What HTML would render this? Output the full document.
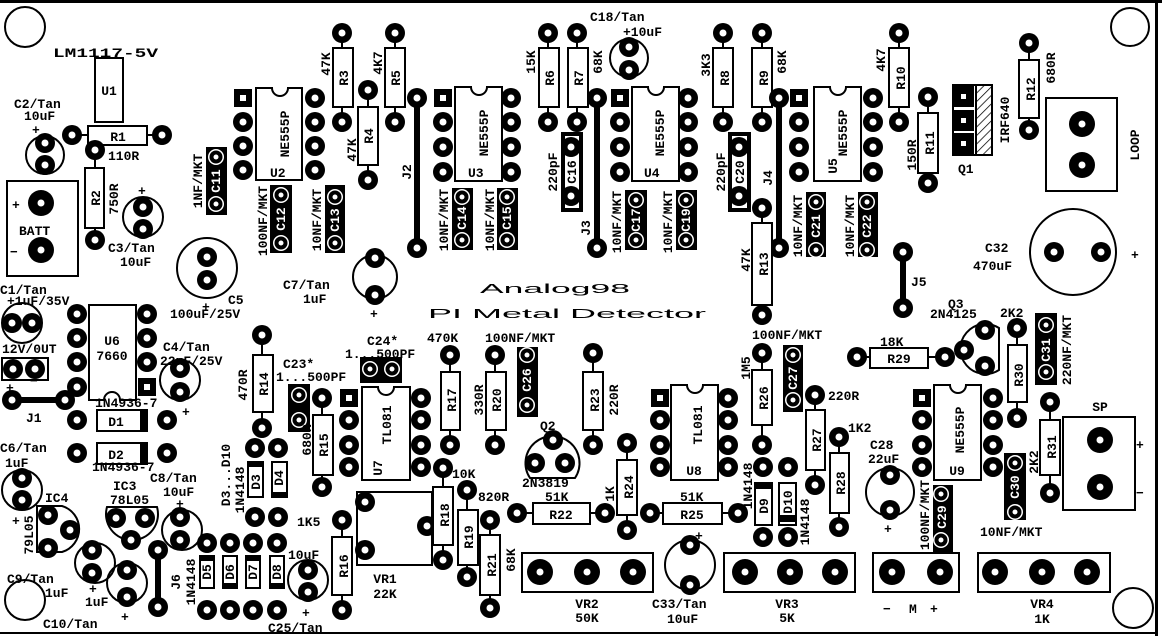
<!DOCTYPE html>
<html><head><meta charset="utf-8"><style>
html,body{margin:0;padding:0;background:#fff}
svg{display:block}
text{font-family:"Liberation Mono","DejaVu Sans Mono",monospace;font-weight:bold;font-size:13px;fill:#000}
.w{stroke:#000;stroke-width:2;fill:#fff}
.o{stroke:#000;stroke-width:2;fill:none}
.l{stroke:#000;stroke-width:2}
.j{stroke:#000;stroke-width:6}
.wt{fill:#fff}
.big{font-family:"Liberation Sans","DejaVu Sans",sans-serif;font-weight:normal}
</style></head><body>
<svg width="1162" height="636" viewBox="0 0 1162 636" xmlns="http://www.w3.org/2000/svg">
<defs>
<g id="p"><circle r="10"/><circle r="3.5" fill="#fff"/></g>
<g id="P"><circle r="13"/><circle r="3.5" fill="#fff"/></g>
<g id="q"><circle r="8" fill="#fff"/><circle r="6.5"/><circle r="2.5" fill="#fff"/></g>
<g id="s"><rect x="-9" y="-9" width="18" height="18"/><rect x="-3" y="-3" width="6" height="6" fill="#fff"/></g>
</defs>
<!-- border -->
<rect x="0" y="0" width="1162" height="3"/>
<rect x="1155" y="0" width="3" height="636"/>
<rect x="0" y="632" width="1158" height="2"/>
<circle cx="25" cy="27" r="20" class="o"/>
<circle cx="1130" cy="27" r="19" class="o"/>
<circle cx="25" cy="600" r="20" class="o"/>
<circle cx="1133" cy="608" r="20" class="o"/>

<!-- U1, R1, R2 -->
<text x="53" y="57" textLength="105" lengthAdjust="spacingAndGlyphs" font-size="15">LM1117-5V</text>
<rect x="95" y="58" width="28" height="64" class="w"/><text x="109" y="95" text-anchor="middle" font-size="15">U1</text>
<line x1="72" y1="135" x2="162" y2="135" class="l"/><rect x="88" y="126" width="59" height="19" class="w"/>
<use href="#p" x="72" y="135"/><use href="#p" x="162" y="135"/><text x="118" y="141" text-anchor="middle" font-size="15">R1</text>
<text x="108" y="160" font-size="14">110R</text>
<line x1="95" y1="148" x2="95" y2="240" class="l"/><rect x="85" y="168" width="19" height="60" class="w"/>
<use href="#p" x="95" y="150"/><use href="#p" x="95" y="240"/>
<text transform="translate(95,198) rotate(-90)" text-anchor="middle" dy="5" font-size="15">R2</text>
<text transform="translate(113,199) rotate(-90)" text-anchor="middle" dy="5" font-size="14">750R</text>
<text x="14" y="108" font-size="14">C2/Tan</text><text x="24" y="120" font-size="14">10uF</text><text x="32" y="134">+</text>
<circle cx="45" cy="155" r="19" class="o"/><use href="#p" x="45" y="143"/><use href="#p" x="45" y="165"/>
<rect x="7" y="181" width="71" height="95" class="o"/>
<use href="#P" x="41" y="203"/><use href="#P" x="41" y="250"/>
<text x="12" y="209" font-size="17">+</text><text x="19" y="235" font-size="14">BATT</text><text x="10" y="256" font-size="17">−</text>
<circle cx="143" cy="217" r="20" class="o"/><use href="#p" x="143" y="207"/><use href="#p" x="143" y="229"/>
<text x="138" y="195" font-size="16">+</text>
<text x="108" y="252" font-size="14">C3/Tan</text><text x="120" y="266" font-size="14">10uF</text>
<circle cx="207" cy="268" r="30" class="o"/><use href="#p" x="207" y="257"/><use href="#p" x="207" y="280"/>
<text x="202" y="311" font-size="16">+</text><text x="228" y="304" font-size="14">C5</text><text x="170" y="318" font-size="12">100uF/25V</text>

<!-- C11 U2 C12 C13 -->
<rect x="206" y="147" width="21" height="68"/><use href="#q" x="216" y="157"/><use href="#q" x="216" y="204"/>
<text transform="translate(216,181) rotate(-90)" text-anchor="middle" dy="4" class="wt" font-size="12">C11</text>
<text transform="translate(198,181) rotate(-90)" text-anchor="middle" dy="4" font-size="12">1NF/MKT</text>
<path d="M256 88 H272 A8 8 0 0 0 288 88 H302 V180 H256 Z" class="w"/>
<use href="#s" x="243" y="98"/><use href="#p" x="243" y="122"/><use href="#p" x="243" y="146"/><use href="#p" x="243" y="170"/>
<use href="#p" x="315" y="98"/><use href="#p" x="315" y="122"/><use href="#p" x="315" y="146"/><use href="#p" x="315" y="170"/>
<text transform="translate(285,134) rotate(-90)" text-anchor="middle" dy="4" font-size="11">NE555P</text><text x="270" y="177" font-size="14">U2</text>
<rect x="270" y="185" width="22" height="68"/><use href="#q" x="281" y="195"/><use href="#q" x="281" y="243"/>
<text transform="translate(281,219) rotate(-90)" text-anchor="middle" dy="4" class="wt" font-size="12">C12</text>
<text transform="translate(263,221) rotate(-90)" text-anchor="middle" dy="4" font-size="12">100NF/MKT</text>
<rect x="325" y="185" width="20" height="68"/><use href="#q" x="335" y="197"/><use href="#q" x="335" y="243"/>
<text transform="translate(335,220) rotate(-90)" text-anchor="middle" dy="4" class="wt" font-size="12">C13</text>
<text transform="translate(317,220) rotate(-90)" text-anchor="middle" dy="4" font-size="12">10NF/MKT</text>

<!-- R3 R4 R5 -->
<line x1="342" y1="33" x2="342" y2="122" class="l"/><rect x="333" y="48" width="20" height="59" class="w"/><use href="#p" x="342" y="33"/><use href="#p" x="342" y="122"/>
<text transform="translate(343,78) rotate(-90)" text-anchor="middle" dy="5" font-size="15">R3</text><text transform="translate(325,64) rotate(-90)" text-anchor="middle" dy="5" font-size="14">47K</text>
<line x1="368" y1="90" x2="368" y2="180" class="l"/><rect x="358" y="107" width="20" height="58" class="w"/><use href="#p" x="368" y="90"/><use href="#p" x="368" y="180"/>
<text transform="translate(368,136) rotate(-90)" text-anchor="middle" dy="5" font-size="15">R4</text><text transform="translate(351,150) rotate(-90)" text-anchor="middle" dy="5" font-size="14">47K</text>
<line x1="395" y1="33" x2="395" y2="122" class="l"/><rect x="385" y="48" width="20" height="59" class="w"/><use href="#p" x="395" y="33"/><use href="#p" x="395" y="122"/>
<text transform="translate(395,78) rotate(-90)" text-anchor="middle" dy="5" font-size="15">R5</text><text transform="translate(377,63) rotate(-90)" text-anchor="middle" dy="5" font-size="14">4K7</text>
<circle cx="375" cy="277" r="22" class="o"/><use href="#p" x="375" y="258"/><use href="#p" x="375" y="295"/>
<text x="370" y="318" font-size="16">+</text><text x="283" y="289" font-size="14">C7/Tan</text><text x="303" y="303" font-size="14">1uF</text>

<!-- J2 U3 C14 C15 -->
<line x1="417" y1="98" x2="417" y2="248" class="j"/><use href="#p" x="417" y="98"/><use href="#p" x="417" y="248"/>
<text transform="translate(406,172) rotate(-90)" text-anchor="middle" dy="5" font-size="14">J2</text>
<path d="M455 87 H471 A8 8 0 0 0 487 87 H502 V181 H455 Z" class="w"/>
<use href="#s" x="443" y="98"/><use href="#p" x="443" y="122"/><use href="#p" x="443" y="147"/><use href="#p" x="443" y="172"/>
<use href="#p" x="511" y="98"/><use href="#p" x="511" y="122"/><use href="#p" x="511" y="147"/><use href="#p" x="511" y="172"/>
<text transform="translate(484,133) rotate(-90)" text-anchor="middle" dy="4" font-size="11">NE555P</text><text x="468" y="177" font-size="14">U3</text>
<rect x="452" y="188" width="21" height="62"/><use href="#q" x="462" y="197"/><use href="#q" x="462" y="240"/>
<text transform="translate(462,218) rotate(-90)" text-anchor="middle" dy="4" class="wt" font-size="12">C14</text>
<text transform="translate(444,220) rotate(-90)" text-anchor="middle" dy="4" font-size="12">10NF/MKT</text>
<rect x="497" y="188" width="21" height="62"/><use href="#q" x="507" y="197"/><use href="#q" x="507" y="240"/>
<text transform="translate(507,218) rotate(-90)" text-anchor="middle" dy="4" class="wt" font-size="12">C15</text>
<text transform="translate(490,220) rotate(-90)" text-anchor="middle" dy="4" font-size="12">10NF/MKT</text>

<!-- R6 R7 C16 J3 C18 -->
<line x1="548" y1="33" x2="548" y2="122" class="l"/><rect x="539" y="48" width="20" height="59" class="w"/><use href="#p" x="548" y="33"/><use href="#p" x="548" y="122"/>
<text transform="translate(549,78) rotate(-90)" text-anchor="middle" dy="5" font-size="15">R6</text><text transform="translate(530,62) rotate(-90)" text-anchor="middle" dy="5" font-size="14">15K</text>
<line x1="577" y1="33" x2="577" y2="122" class="l"/><rect x="568" y="48" width="20" height="59" class="w"/><use href="#p" x="577" y="33"/><use href="#p" x="577" y="122"/>
<text transform="translate(578,78) rotate(-90)" text-anchor="middle" dy="5" font-size="15">R7</text><text transform="translate(597,62) rotate(-90)" text-anchor="middle" dy="5" font-size="14">68K</text>
<rect x="563" y="134" width="18" height="76" fill="#fff" stroke="#000" stroke-width="4"/><use href="#p" x="571" y="147"/><use href="#p" x="571" y="196"/>
<text transform="translate(572,172) rotate(-90)" text-anchor="middle" dy="4" font-size="12">C16</text>
<text transform="translate(552,172) rotate(-90)" text-anchor="middle" dy="5" font-size="14">220pF</text>
<line x1="597" y1="98" x2="597" y2="248" class="j"/><use href="#p" x="597" y="98"/><use href="#p" x="597" y="248"/>
<text transform="translate(585,228) rotate(-90)" text-anchor="middle" dy="5" font-size="14">J3</text>
<circle cx="629" cy="58" r="19" class="o"/><use href="#p" x="629" y="47"/><use href="#p" x="629" y="70"/>
<text x="590" y="21" font-size="14">C18/Tan</text><text x="623" y="36" font-size="14">+10uF</text>

<!-- U4 C17 C19 -->
<path d="M632 87 H648 A8 8 0 0 0 664 87 H679 V181 H632 Z" class="w"/>
<use href="#s" x="620" y="98"/><use href="#p" x="620" y="122"/><use href="#p" x="620" y="147"/><use href="#p" x="620" y="172"/>
<use href="#p" x="688" y="98"/><use href="#p" x="688" y="122"/><use href="#p" x="688" y="147"/><use href="#p" x="688" y="172"/>
<text transform="translate(660,133) rotate(-90)" text-anchor="middle" dy="4" font-size="11">NE555P</text><text x="644" y="177" font-size="14">U4</text>
<rect x="625" y="190" width="22" height="60"/><use href="#q" x="636" y="200"/><use href="#q" x="636" y="240"/>
<text transform="translate(636,220) rotate(-90)" text-anchor="middle" dy="4" class="wt" font-size="12">C17</text>
<text transform="translate(617,222) rotate(-90)" text-anchor="middle" dy="4" font-size="12">10NF/MKT</text>
<rect x="676" y="190" width="21" height="60"/><use href="#q" x="686" y="200"/><use href="#q" x="686" y="240"/>
<text transform="translate(686,220) rotate(-90)" text-anchor="middle" dy="4" class="wt" font-size="12">C19</text>
<text transform="translate(668,222) rotate(-90)" text-anchor="middle" dy="4" font-size="12">10NF/MKT</text>

<!-- R8 R9 C20 J4 R13 -->
<line x1="723" y1="33" x2="723" y2="122" class="l"/><rect x="713" y="48" width="20" height="59" class="w"/><use href="#p" x="723" y="33"/><use href="#p" x="723" y="122"/>
<text transform="translate(724,78) rotate(-90)" text-anchor="middle" dy="5" font-size="15">R8</text><text transform="translate(705,65) rotate(-90)" text-anchor="middle" dy="5" font-size="14">3K3</text>
<line x1="762" y1="33" x2="762" y2="122" class="l"/><rect x="752" y="48" width="20" height="59" class="w"/><use href="#p" x="762" y="33"/><use href="#p" x="762" y="122"/>
<text transform="translate(763,78) rotate(-90)" text-anchor="middle" dy="5" font-size="15">R9</text><text transform="translate(781,62) rotate(-90)" text-anchor="middle" dy="5" font-size="14">68K</text>
<rect x="730" y="134" width="19" height="76" fill="#fff" stroke="#000" stroke-width="4"/><use href="#p" x="739" y="147"/><use href="#p" x="739" y="196"/>
<text transform="translate(740,172) rotate(-90)" text-anchor="middle" dy="4" font-size="12">C20</text>
<text transform="translate(720,172) rotate(-90)" text-anchor="middle" dy="5" font-size="14">220pF</text>
<line x1="779" y1="98" x2="779" y2="248" class="j"/><use href="#p" x="779" y="98"/><use href="#p" x="779" y="248"/>
<text transform="translate(767,178) rotate(-90)" text-anchor="middle" dy="5" font-size="14">J4</text>
<line x1="762" y1="208" x2="762" y2="315" class="l"/><rect x="752" y="223" width="20" height="82" class="w"/><use href="#p" x="762" y="208"/><use href="#p" x="762" y="315"/>
<text transform="translate(763,264) rotate(-90)" text-anchor="middle" dy="5" font-size="15">R13</text><text transform="translate(745,260) rotate(-90)" text-anchor="middle" dy="5" font-size="14">47K</text>

<!-- U5 C21 C22 -->
<path d="M814 87 H830 A8 8 0 0 0 846 87 H861 V181 H814 Z" class="w"/>
<use href="#s" x="799" y="98"/><use href="#p" x="799" y="122"/><use href="#p" x="799" y="147"/><use href="#p" x="799" y="172"/>
<use href="#p" x="873" y="98"/><use href="#p" x="873" y="122"/><use href="#p" x="873" y="147"/><use href="#p" x="873" y="172"/>
<text transform="translate(843,133) rotate(-90)" text-anchor="middle" dy="4" font-size="11">NE555P</text><text transform="translate(832,166) rotate(-90)" text-anchor="middle" dy="5" font-size="14">U5</text>
<rect x="806" y="192" width="20" height="65"/><use href="#q" x="816" y="202"/><use href="#q" x="816" y="250"/>
<text transform="translate(816,226) rotate(-90)" text-anchor="middle" dy="4" class="wt" font-size="12">C21</text>
<text transform="translate(798,226) rotate(-90)" text-anchor="middle" dy="4" font-size="12">10NF/MKT</text>
<rect x="858" y="192" width="20" height="65"/><use href="#q" x="867" y="202"/><use href="#q" x="867" y="250"/>
<text transform="translate(867,226) rotate(-90)" text-anchor="middle" dy="4" class="wt" font-size="12">C22</text>
<text transform="translate(850,226) rotate(-90)" text-anchor="middle" dy="4" font-size="12">10NF/MKT</text>

<!-- R10 R11 Q1 R12 LOOP C32 J5 -->
<line x1="899" y1="33" x2="899" y2="122" class="l"/><rect x="889" y="48" width="20" height="59" class="w"/><use href="#p" x="899" y="33"/><use href="#p" x="899" y="122"/>
<text transform="translate(900,78) rotate(-90)" text-anchor="middle" dy="5" font-size="15">R10</text><text transform="translate(880,60) rotate(-90)" text-anchor="middle" dy="5" font-size="14">4K7</text>
<line x1="928" y1="97" x2="928" y2="183" class="l"/><rect x="918" y="113" width="20" height="60" class="w"/><use href="#p" x="928" y="97"/><use href="#p" x="928" y="183"/>
<text transform="translate(929,143) rotate(-90)" text-anchor="middle" dy="5" font-size="15">R11</text><text transform="translate(911,155) rotate(-90)" text-anchor="middle" dy="5" font-size="14">150R</text>
<rect x="953" y="85" width="39" height="70" class="w"/>
<defs><pattern id="h" width="6" height="6" patternUnits="userSpaceOnUse" patternTransform="rotate(45)"><line x1="0" y1="0" x2="0" y2="6" stroke="#000" stroke-width="1.5"/></pattern></defs>
<rect x="976" y="86" width="15" height="68" fill="url(#h)"/><line x1="976" y1="86" x2="976" y2="154" class="l"/>
<rect x="953" y="86" width="21" height="21"/><rect x="953" y="110" width="21" height="21"/><rect x="953" y="133" width="21" height="21"/>
<rect x="961" y="94" width="5" height="5" fill="#fff"/><rect x="961" y="118" width="5" height="5" fill="#fff"/><rect x="961" y="141" width="5" height="5" fill="#fff"/>
<text transform="translate(1004,120) rotate(-90)" text-anchor="middle" dy="5" font-size="15">IRF640</text><text x="958" y="173" font-size="14">Q1</text>
<line x1="1029" y1="43" x2="1029" y2="130" class="l"/><rect x="1019" y="60" width="20" height="58" class="w"/><use href="#p" x="1029" y="43"/><use href="#p" x="1029" y="130"/>
<text transform="translate(1030,89) rotate(-90)" text-anchor="middle" dy="5" font-size="15">R12</text><text transform="translate(1050,68) rotate(-90)" text-anchor="middle" dy="5" font-size="14">680R</text>
<rect x="1046" y="98" width="71" height="93" class="o"/><use href="#P" x="1082" y="124"/><use href="#P" x="1082" y="165"/>
<text transform="translate(1134,145) rotate(-90)" text-anchor="middle" dy="5" font-size="15">LOOP</text>
<circle cx="1073" cy="252" r="43" class="o"/><use href="#p" x="1054" y="252"/><use href="#p" x="1101" y="252"/>
<text x="1131" y="259" font-size="18">+</text><text x="985" y="252" font-size="15">C32</text><text x="973" y="270" font-size="14">470uF</text>
<line x1="903" y1="252" x2="903" y2="308" class="j"/><use href="#p" x="903" y="252"/><use href="#p" x="903" y="308"/>
<text x="911" y="286" font-size="14">J5</text>

<!-- Titles -->
<text x="480" y="293" class="big" font-size="26" textLength="150" lengthAdjust="spacingAndGlyphs">Analog98</text>
<text x="428" y="318" class="big" font-size="22" textLength="278" lengthAdjust="spacingAndGlyphs">PI Metal Detector</text>

<!-- left-bottom: C1, U6, J1, D1 D2, C4 -->
<text x="0" y="294" font-size="14">C1/Tan</text><text x="7" y="305" font-size="12">+1uF/35V</text>
<circle cx="22" cy="323" r="20" class="o"/><use href="#p" x="12" y="323"/><use href="#p" x="32" y="323"/>
<path d="M89 305 H136 V400 H120 A8 8 0 0 0 104 400 H89 Z" class="w"/>
<use href="#p" x="77" y="314"/><use href="#p" x="77" y="338"/><use href="#p" x="77" y="362"/><use href="#p" x="77" y="387"/>
<use href="#p" x="147" y="314"/><use href="#p" x="147" y="338"/><use href="#p" x="147" y="362"/><use href="#s" x="147" y="387"/>
<text x="112" y="345" text-anchor="middle" font-size="14">U6</text><text x="112" y="360" text-anchor="middle" font-size="12">7660</text>
<text x="2" y="353" font-size="10">12V/0UT</text>
<rect x="2" y="358" width="46" height="22" class="o"/><use href="#p" x="13" y="369"/><use href="#p" x="35" y="369"/>
<text x="6" y="392" font-size="15">+</text><text x="30" y="385" font-size="15">−</text>
<line x1="12" y1="400" x2="65" y2="400" class="j"/><use href="#p" x="12" y="400"/><use href="#p" x="65" y="400"/>
<text x="26" y="422" font-size="14">J1</text>
<text x="95" y="407" font-size="10">1N4936-7</text>
<use href="#p" x="77" y="420"/><use href="#p" x="167" y="420"/><rect x="97" y="410" width="50" height="21" class="w"/><rect x="140" y="410" width="7" height="21"/>
<text x="116" y="426" text-anchor="middle" font-size="15">D1</text>
<use href="#p" x="77" y="453"/><use href="#p" x="167" y="453"/><rect x="97" y="443" width="50" height="21" class="w"/><rect x="140" y="443" width="7" height="21"/>
<text x="116" y="459" text-anchor="middle" font-size="15">D2</text><text x="92" y="471" font-size="10">1N4936-7</text>
<circle cx="180" cy="380" r="20" class="o"/><use href="#p" x="180" y="368"/><use href="#p" x="180" y="392"/>
<text x="182" y="416" font-size="16">+</text><text x="163" y="351" font-size="14">C4/Tan</text><text x="160" y="365" font-size="12">22uF/25V</text>
<!-- C6 IC4 IC3 C8 C9 C10 J6 -->
<text x="0" y="452" font-size="14">C6/Tan</text><text x="5" y="467" font-size="14">1uF</text>
<circle cx="22" cy="490" r="20" class="o"/><use href="#p" x="22" y="478"/><use href="#p" x="22" y="500"/><text x="12" y="525" font-size="16">+</text>
<text x="45" y="502" font-size="15">IC4</text>
<path d="M37 506 H62 A24 24 0 0 1 62 552 H37 Z" class="o"/>
<use href="#p" x="48" y="515"/><use href="#p" x="70" y="530"/><use href="#p" x="48" y="548"/>
<text transform="translate(29,535) rotate(-90)" text-anchor="middle" dy="4" font-size="11">79L05</text>
<text x="113" y="490" font-size="15">IC3</text><text x="110" y="504" font-size="11">78L05</text><line x1="108" y1="507" x2="154" y2="507" class="l"/>
<path d="M107 507 A26 26 0 1 0 157 507 Z" class="o"/>
<use href="#p" x="116" y="518"/><use href="#p" x="145" y="518"/><use href="#p" x="131" y="540"/>
<circle cx="182" cy="530" r="20" class="o"/><use href="#p" x="180" y="517"/><use href="#p" x="180" y="540"/>
<text x="176" y="508" font-size="16">+</text><text x="150" y="482" font-size="14">C8/Tan</text><text x="163" y="496" font-size="14">10uF</text>
<circle cx="95" cy="563" r="20" class="o"/><use href="#p" x="92" y="550"/><use href="#p" x="92" y="573"/>
<text x="89" y="593" font-size="16">+</text><text x="7" y="583" font-size="14">C9/Tan</text><text x="45" y="597" font-size="14">1uF</text>
<circle cx="127" cy="583" r="20" class="o"/><use href="#p" x="127" y="570"/><use href="#p" x="127" y="597"/>
<text x="121" y="621" font-size="16">+</text><text x="85" y="606" font-size="14">1uF</text><text x="43" y="628" font-size="14">C10/Tan</text>
<line x1="158" y1="550" x2="158" y2="607" class="j"/><use href="#p" x="158" y="550"/><use href="#p" x="158" y="607"/>
<text transform="translate(175,582) rotate(-90)" text-anchor="middle" dy="5" font-size="14">J6</text>
<!-- D5-D8 -->
<use href="#p" x="207" y="543"/><use href="#p" x="230" y="543"/><use href="#p" x="253" y="543"/><use href="#p" x="277" y="543"/>
<use href="#p" x="207" y="610"/><use href="#p" x="230" y="610"/><use href="#p" x="253" y="610"/><use href="#p" x="277" y="610"/>
<rect x="200" y="556" width="14" height="32" class="w"/><rect x="200" y="555" width="15" height="6"/>
<rect x="223" y="556" width="14" height="32" class="w"/><rect x="223" y="583" width="15" height="6"/>
<rect x="246" y="556" width="14" height="32" class="w"/><rect x="246" y="555" width="15" height="6"/>
<rect x="270" y="556" width="14" height="32" class="w"/><rect x="270" y="583" width="15" height="6"/>
<text transform="translate(207,572) rotate(-90)" text-anchor="middle" dy="4" font-size="11">D5</text>
<text transform="translate(230,572) rotate(-90)" text-anchor="middle" dy="4" font-size="11">D6</text>
<text transform="translate(253,572) rotate(-90)" text-anchor="middle" dy="4" font-size="11">D7</text>
<text transform="translate(277,572) rotate(-90)" text-anchor="middle" dy="4" font-size="11">D8</text>
<text transform="translate(191,582) rotate(-90)" text-anchor="middle" dy="4" font-size="11">1N4148</text>
<!-- D3 D4 -->
<use href="#p" x="255" y="448"/><use href="#p" x="278" y="448"/><use href="#p" x="255" y="517"/><use href="#p" x="278" y="517"/>
<rect x="248" y="462" width="15" height="35" class="w"/><rect x="248" y="461" width="16" height="6"/>
<rect x="272" y="462" width="15" height="35" class="w"/><rect x="272" y="492" width="16" height="6"/>
<text transform="translate(256,482) rotate(-90)" text-anchor="middle" dy="4" font-size="11">D3</text>
<text transform="translate(279,478) rotate(-90)" text-anchor="middle" dy="4" font-size="11">D4</text>
<text transform="translate(226,475) rotate(-90)" text-anchor="middle" dy="4" font-size="11">D3...D10</text>
<text transform="translate(240,490) rotate(-90)" text-anchor="middle" dy="4" font-size="12">1N4148</text>
<!-- R14 C23 R15 U7 C24 R16 VR1 C25 -->
<line x1="262" y1="335" x2="262" y2="428" class="l"/><rect x="253" y="355" width="20" height="57" class="w"/><use href="#p" x="262" y="335"/><use href="#p" x="262" y="428"/>
<text transform="translate(263,384) rotate(-90)" text-anchor="middle" dy="5" font-size="15">R14</text><text transform="translate(242,385) rotate(-90)" text-anchor="middle" dy="5" font-size="14">470R</text>
<text x="283" y="368" font-size="12">C23*</text><text x="276" y="381" font-size="11">1...500PF</text>
<rect x="288" y="384" width="22" height="48"/><use href="#q" x="299" y="395"/><use href="#q" x="299" y="420"/>
<line x1="322" y1="398" x2="322" y2="487" class="l"/><rect x="313" y="415" width="20" height="60" class="w"/><use href="#p" x="322" y="398"/><use href="#p" x="322" y="487"/>
<text transform="translate(323,445) rotate(-90)" text-anchor="middle" dy="5" font-size="15">R15</text><text transform="translate(306,440) rotate(-90)" text-anchor="middle" dy="5" font-size="14">680R</text>
<text x="367" y="345" font-size="12">C24*</text><text x="345" y="358" font-size="11">1...500PF</text>
<rect x="360" y="357" width="42" height="26"/><use href="#q" x="370" y="369"/><use href="#q" x="392" y="369"/>
<path d="M362 387 H378 A8 8 0 0 0 394 387 H410 V480 H362 Z" class="w"/>
<use href="#s" x="349" y="398"/><use href="#p" x="349" y="420"/><use href="#p" x="349" y="445"/><use href="#p" x="349" y="467"/>
<use href="#p" x="421" y="398"/><use href="#p" x="421" y="420"/><use href="#p" x="421" y="445"/><use href="#p" x="421" y="467"/>
<text transform="translate(386,425) rotate(-90)" text-anchor="middle" dy="5" font-size="14">TL081</text><text transform="translate(377,468) rotate(-90)" text-anchor="middle" dy="5" font-size="14">U7</text>
<line x1="342" y1="520" x2="342" y2="610" class="l"/><rect x="332" y="537" width="20" height="58" class="w"/><use href="#p" x="342" y="520"/><use href="#p" x="342" y="610"/>
<text transform="translate(343,566) rotate(-90)" text-anchor="middle" dy="5" font-size="15">R16</text><text x="297" y="526" font-size="14">1K5</text>
<rect x="357" y="492" width="75" height="73" class="o"/><use href="#p" x="365" y="502"/><use href="#p" x="365" y="550"/><use href="#p" x="427" y="526"/>
<text x="385" y="583" text-anchor="middle" font-size="14">VR1</text><text x="385" y="598" text-anchor="middle" font-size="14">22K</text>
<circle cx="308" cy="580" r="20" class="o"/><use href="#p" x="308" y="570"/><use href="#p" x="308" y="592"/>
<text x="302" y="617" font-size="16">+</text><text x="288" y="559" font-size="14">10uF</text><text x="268" y="632" font-size="14">C25/Tan</text>

<!-- middle bottom -->
<line x1="450" y1="355" x2="450" y2="445" class="l"/><rect x="441" y="372" width="19" height="58" class="w"/><use href="#p" x="450" y="355"/><use href="#p" x="450" y="445"/>
<text transform="translate(451,400) rotate(-90)" text-anchor="middle" dy="5" font-size="15">R17</text><text x="427" y="342" font-size="14">470K</text>
<line x1="495" y1="355" x2="495" y2="445" class="l"/><rect x="486" y="372" width="20" height="58" class="w"/><use href="#p" x="495" y="355"/><use href="#p" x="495" y="445"/>
<text transform="translate(496,400) rotate(-90)" text-anchor="middle" dy="5" font-size="15">R20</text><text transform="translate(478,400) rotate(-90)" text-anchor="middle" dy="5" font-size="14">330R</text>
<text x="485" y="342" font-size="12">100NF/MKT</text>
<rect x="517" y="347" width="21" height="70"/><use href="#q" x="527" y="355"/><use href="#q" x="527" y="405"/>
<text transform="translate(527,380) rotate(-90)" text-anchor="middle" dy="4" class="wt" font-size="12">C26</text>
<text x="540" y="430" font-size="13">Q2</text>
<path d="M530 478 A27 27 0 1 1 575 478 Z" class="o"/>
<use href="#p" x="553" y="440"/><use href="#p" x="535" y="463"/><use href="#p" x="565" y="463"/>
<text x="522" y="487" font-size="11">2N3819</text>
<line x1="593" y1="353" x2="593" y2="445" class="l"/><rect x="583" y="372" width="20" height="58" class="w"/><use href="#p" x="593" y="353"/><use href="#p" x="593" y="445"/>
<text transform="translate(594,400) rotate(-90)" text-anchor="middle" dy="5" font-size="15">R23</text><text transform="translate(613,400) rotate(-90)" text-anchor="middle" dy="5" font-size="14">220R</text>
<line x1="627" y1="443" x2="627" y2="530" class="l"/><rect x="617" y="460" width="20" height="55" class="w"/><use href="#p" x="627" y="443"/><use href="#p" x="627" y="530"/>
<text transform="translate(628,487) rotate(-90)" text-anchor="middle" dy="5" font-size="15">R24</text><text transform="translate(609,494) rotate(-90)" text-anchor="middle" dy="5" font-size="14">1K</text>
<line x1="443" y1="468" x2="443" y2="560" class="l"/><rect x="433" y="487" width="20" height="58" class="w"/><use href="#p" x="443" y="468"/><use href="#p" x="443" y="560"/>
<text transform="translate(444,515) rotate(-90)" text-anchor="middle" dy="5" font-size="15">R18</text><text x="452" y="478" font-size="14">10K</text>
<line x1="467" y1="490" x2="467" y2="577" class="l"/><rect x="458" y="510" width="20" height="55" class="w"/><use href="#p" x="467" y="490"/><use href="#p" x="467" y="577"/>
<text transform="translate(468,537) rotate(-90)" text-anchor="middle" dy="5" font-size="15">R19</text><text x="478" y="501" font-size="14">820R</text>
<line x1="490" y1="520" x2="490" y2="608" class="l"/><rect x="480" y="535" width="20" height="60" class="w"/><use href="#p" x="490" y="520"/><use href="#p" x="490" y="608"/>
<text transform="translate(491,565) rotate(-90)" text-anchor="middle" dy="5" font-size="15">R21</text><text transform="translate(510,560) rotate(-90)" text-anchor="middle" dy="5" font-size="14">68K</text>
<line x1="517" y1="513" x2="605" y2="513" class="l"/><rect x="533" y="503" width="57" height="21" class="w"/><use href="#p" x="517" y="513"/><use href="#p" x="605" y="513"/>
<text x="561" y="519" text-anchor="middle" font-size="15">R22</text><text x="545" y="501" font-size="14">51K</text>
<line x1="650" y1="513" x2="738" y2="513" class="l"/><rect x="663" y="503" width="59" height="21" class="w"/><use href="#p" x="650" y="513"/><use href="#p" x="738" y="513"/>
<text x="692" y="519" text-anchor="middle" font-size="15">R25</text><text x="680" y="501" font-size="14">51K</text>
<path d="M671 385 H687 A8 8 0 0 0 703 385 H718 V480 H671 Z" class="w"/>
<use href="#s" x="660" y="398"/><use href="#p" x="660" y="420"/><use href="#p" x="660" y="445"/><use href="#p" x="660" y="467"/>
<use href="#p" x="728" y="398"/><use href="#p" x="728" y="420"/><use href="#p" x="728" y="445"/><use href="#p" x="728" y="467"/>
<text transform="translate(697,425) rotate(-90)" text-anchor="middle" dy="5" font-size="14">TL081</text><text x="694" y="475" text-anchor="middle" font-size="14">U8</text>
<rect x="522" y="553" width="131" height="39" class="o"/><use href="#P" x="540" y="572"/><use href="#P" x="587" y="572"/><use href="#P" x="633" y="572"/>
<text x="587" y="608" text-anchor="middle" font-size="14">VR2</text><text x="587" y="622" text-anchor="middle" font-size="14">50K</text>
<circle cx="690" cy="565" r="25" class="o"/><use href="#p" x="690" y="545"/><use href="#p" x="690" y="585"/>
<text x="695" y="540" font-size="16">+</text><text x="652" y="608" font-size="14">C33/Tan</text><text x="667" y="623" font-size="14">10uF</text>
<rect x="724" y="553" width="131" height="39" class="o"/><use href="#P" x="745" y="572"/><use href="#P" x="790" y="572"/><use href="#P" x="835" y="572"/>
<text x="787" y="608" text-anchor="middle" font-size="14">VR3</text><text x="787" y="622" text-anchor="middle" font-size="14">5K</text>
<!-- R26 C27 D9 D10 -->
<line x1="762" y1="353" x2="762" y2="445" class="l"/><rect x="752" y="370" width="20" height="55" class="w"/><use href="#p" x="762" y="353"/><use href="#p" x="762" y="445"/>
<text transform="translate(763,398) rotate(-90)" text-anchor="middle" dy="5" font-size="15">R26</text><text transform="translate(745,368) rotate(-90)" text-anchor="middle" dy="5" font-size="14">1M5</text>
<text x="752" y="339" font-size="12">100NF/MKT</text>
<rect x="783" y="345" width="20" height="67"/><use href="#q" x="793" y="355"/><use href="#q" x="793" y="400"/>
<text transform="translate(793,378) rotate(-90)" text-anchor="middle" dy="4" class="wt" font-size="12">C27</text>
<use href="#p" x="763" y="467"/><use href="#p" x="788" y="467"/><use href="#p" x="763" y="537"/><use href="#p" x="788" y="537"/>
<rect x="755" y="483" width="17" height="42" class="w"/><rect x="755" y="482" width="18" height="7"/>
<rect x="779" y="483" width="17" height="42" class="w"/><rect x="779" y="515" width="18" height="7"/>
<text transform="translate(764,506) rotate(-90)" text-anchor="middle" dy="4" font-size="11">D9</text>
<text transform="translate(788,502) rotate(-90)" text-anchor="middle" dy="4" font-size="11">D10</text>
<text transform="translate(748,486) rotate(-90)" text-anchor="middle" dy="4" font-size="11">1N4148</text>
<text transform="translate(805,522) rotate(-90)" text-anchor="middle" dy="4" font-size="11">1N4148</text>

<!-- right bottom -->
<line x1="857" y1="357" x2="945" y2="357" class="l"/><rect x="870" y="348" width="58" height="20" class="w"/><use href="#p" x="857" y="357"/><use href="#p" x="945" y="357"/>
<text x="899" y="363" text-anchor="middle" font-size="15">R29</text><text x="880" y="346" font-size="14">18K</text>
<text x="948" y="308" font-size="13">Q3</text><text x="930" y="318" font-size="11">2N4125</text>
<path d="M999 328 A25 25 0 1 0 999 370 Z" class="o"/>
<use href="#p" x="985" y="330"/><use href="#p" x="964" y="350"/><use href="#p" x="985" y="366"/>
<text x="1000" y="317" font-size="14">2K2</text>
<line x1="1017" y1="328" x2="1017" y2="418" class="l"/><rect x="1008" y="345" width="19" height="57" class="w"/><use href="#p" x="1017" y="328"/><use href="#p" x="1017" y="418"/>
<text transform="translate(1018,375) rotate(-90)" text-anchor="middle" dy="5" font-size="15">R30</text>
<rect x="1035" y="313" width="22" height="72"/><use href="#q" x="1046" y="325"/><use href="#q" x="1046" y="372"/>
<text transform="translate(1046,350) rotate(-90)" text-anchor="middle" dy="4" class="wt" font-size="12">C31</text>
<text transform="translate(1067,350) rotate(-90)" text-anchor="middle" dy="4" font-size="12">220NF/MKT</text>
<path d="M934 385 H950 A8 8 0 0 0 966 385 H981 V480 H934 Z" class="w"/>
<use href="#s" x="922" y="398"/><use href="#p" x="922" y="420"/><use href="#p" x="922" y="445"/><use href="#p" x="922" y="467"/>
<use href="#p" x="993" y="398"/><use href="#p" x="993" y="420"/><use href="#p" x="993" y="445"/><use href="#p" x="993" y="467"/>
<text transform="translate(960,430) rotate(-90)" text-anchor="middle" dy="4" font-size="12">NE555P</text><text x="957" y="475" text-anchor="middle" font-size="14">U9</text>
<line x1="815" y1="395" x2="815" y2="485" class="l"/><rect x="806" y="410" width="19" height="60" class="w"/><use href="#p" x="815" y="395"/><use href="#p" x="815" y="485"/>
<text transform="translate(816,440) rotate(-90)" text-anchor="middle" dy="5" font-size="15">R27</text><text x="828" y="400" font-size="14">220R</text>
<line x1="839" y1="437" x2="839" y2="527" class="l"/><rect x="830" y="453" width="19" height="60" class="w"/><use href="#p" x="839" y="437"/><use href="#p" x="839" y="527"/>
<text transform="translate(840,483) rotate(-90)" text-anchor="middle" dy="5" font-size="15">R28</text><text x="848" y="432" font-size="14">1K2</text>
<circle cx="890" cy="492" r="24" class="o"/><use href="#p" x="890" y="475"/><use href="#p" x="890" y="510"/>
<text x="884" y="533" font-size="16">+</text><text x="870" y="449" font-size="14">C28</text><text x="868" y="463" font-size="14">22uF</text>
<rect x="933" y="485" width="20" height="67"/><use href="#q" x="941" y="494"/><use href="#q" x="941" y="540"/>
<text transform="translate(942,517) rotate(-90)" text-anchor="middle" dy="4" class="wt" font-size="12">C29</text>
<text transform="translate(925,515) rotate(-90)" text-anchor="middle" dy="4" font-size="12">100NF/MKT</text>
<rect x="1004" y="453" width="22" height="67"/><use href="#q" x="1015" y="463"/><use href="#q" x="1015" y="512"/>
<text transform="translate(1015,487) rotate(-90)" text-anchor="middle" dy="4" class="wt" font-size="12">C30</text>
<text x="980" y="536" font-size="12">10NF/MKT</text>
<text transform="translate(1034,462) rotate(-90)" text-anchor="middle" dy="4" font-size="13">2K2</text>
<line x1="1050" y1="402" x2="1050" y2="493" class="l"/><rect x="1040" y="420" width="20" height="55" class="w"/><use href="#p" x="1050" y="402"/><use href="#p" x="1050" y="493"/>
<text transform="translate(1051,447) rotate(-90)" text-anchor="middle" dy="5" font-size="15">R31</text>
<rect x="1063" y="417" width="72" height="93" class="o"/><use href="#P" x="1100" y="440"/><use href="#P" x="1100" y="487"/>
<text x="1100" y="411" text-anchor="middle" font-size="15">SP</text><text x="1136" y="449" font-size="18">+</text><text x="1136" y="497" font-size="18">−</text>
<rect x="873" y="553" width="86" height="39" class="o"/><use href="#P" x="892" y="572"/><use href="#P" x="940" y="572"/>
<text x="883" y="613" font-size="15">−</text><text x="909" y="613" font-size="14">M</text><text x="930" y="613" font-size="16">+</text>
<rect x="978" y="553" width="132" height="39" class="o"/><use href="#P" x="995" y="572"/><use href="#P" x="1042" y="572"/><use href="#P" x="1087" y="572"/>
<text x="1042" y="608" text-anchor="middle" font-size="14">VR4</text><text x="1042" y="623" text-anchor="middle" font-size="14">1K</text>
</svg>
</body></html>
